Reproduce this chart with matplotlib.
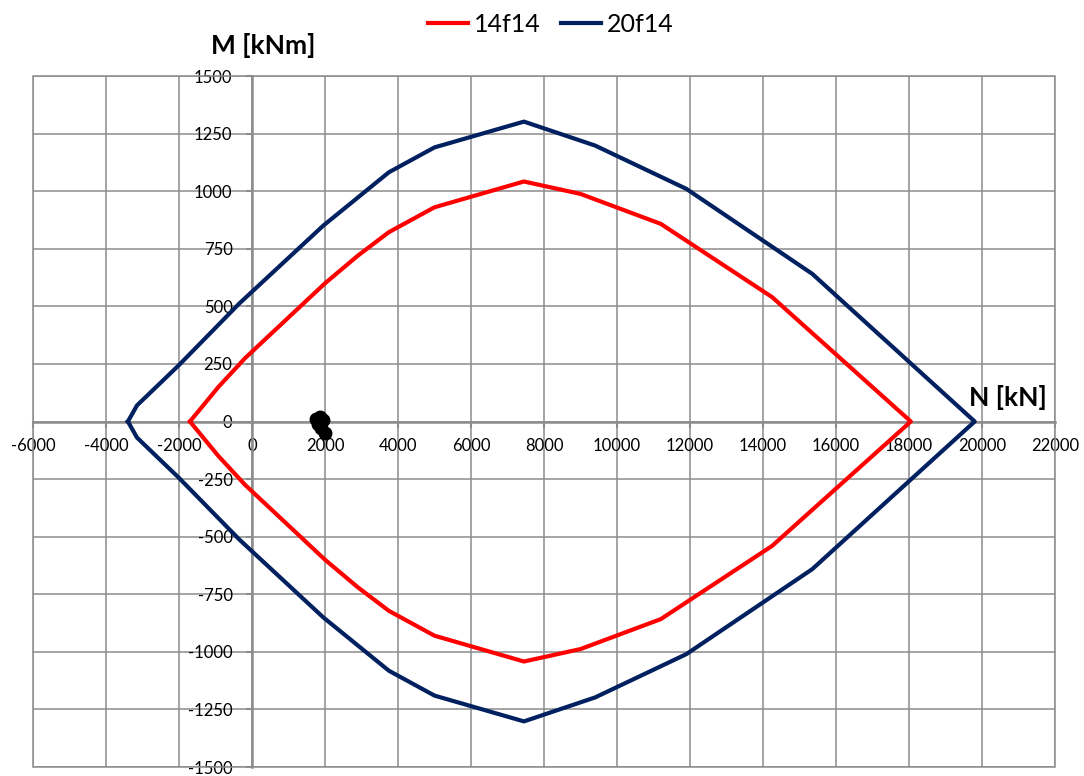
import matplotlib.pyplot as plt
from matplotlib.patches import Rectangle

plt.rcParams['font.family'] = ['Lato', 'DejaVu Sans']
plt.rcParams['axes.unicode_minus'] = False

# interaction curve 14f14 (N [kN], M [kNm]) - upper branch then lower branch
n_14 = [-1700, -920, -190, 2000, 2900, 3750, 5000, 7450, 9000, 11200, 14250, 18050,
        14250, 11200, 9000, 7450, 5000, 3750, 2900, 2000, -190, -920, -1700]
m_14 = [0, 150, 275, 600, 720, 822, 930, 1042, 988, 858, 540, 0,
        -540, -858, -988, -1042, -930, -822, -720, -600, -275, -150, 0]

# interaction curve 20f14
n_20 = [-3400, -3150, -2000, -350, 1950, 3750, 5000, 7450, 9400, 11900, 15350, 19800,
        15350, 11900, 9400, 7450, 5000, 3750, 1950, -350, -2000, -3150, -3400]
m_20 = [0, 70, 245, 512, 850, 1082, 1190, 1302, 1198, 1010, 641, 0,
        -641, -1010, -1198, -1302, -1190, -1082, -850, -512, -245, -70, 0]

# load combinations (black points)
n_load = [1750, 1850, 1950, 1900, 2000, 1800]
m_load = [10, 20, 5, -30, -50, -10]

x_ticks = list(range(-6000, 22001, 2000))
y_ticks = list(range(-1500, 1501, 250))

fig = plt.figure(figsize=(10.84, 7.76), dpi=100)
ax = fig.add_axes([33 / 1084, 9 / 776, 1022 / 1084, 691 / 776])

grey = '#8c8c8c'
line14, = ax.plot(n_14, m_14, color='#ff0000', lw=3, label='14f14', zorder=3)
line20, = ax.plot(n_20, m_20, color='#002060', lw=3, label='20f14', zorder=3)
ax.plot(n_load, m_load, 'o', color='black', markersize=9, zorder=4)

ax.set_xlim(-6000, 22000)
ax.set_ylim(-1500, 1500)
ax.set_xticks(x_ticks)
ax.set_yticks(y_ticks)
ax.grid(True, color=grey, lw=1.1)
ax.set_axisbelow(True)

# axes crossing at zero, like the spreadsheet chart
ax.spines['left'].set_position(('data', 0))
ax.spines['bottom'].set_position(('data', 0))
ax.spines['top'].set_visible(False)
ax.spines['right'].set_visible(False)
for s in ['left', 'bottom']:
    ax.spines[s].set_color(grey)
    ax.spines[s].set_linewidth(1.8)
    ax.spines[s].set_zorder(2)

ax.add_patch(Rectangle((0, 0), 1, 1, transform=ax.transAxes, fill=False,
                       edgecolor=grey, lw=1.1, clip_on=False, zorder=1))

ax.tick_params(axis='x', direction='out', length=4, width=1.5, color=grey,
               pad=8, labelsize=12)
ax.tick_params(axis='y', direction='out', length=4, width=1.5, color=grey,
               pad=10, labelsize=12)

fig.text(263 / 1084, 1 - 45 / 776, 'M [kNm]', fontsize=19, fontweight='bold',
         ha='center', va='center')
fig.text(1008 / 1084, 1 - 398 / 776, 'N [kN]', fontsize=19, fontweight='bold',
         ha='center', va='center')

fig.legend(handles=[line14, line20], loc='center', bbox_to_anchor=(0.508, 1 - 24 / 776),
           ncol=2, frameon=False, fontsize=18, handlelength=1.6,
           handletextpad=0.25, columnspacing=0.8)

fig.savefig('out.png', dpi=100)
